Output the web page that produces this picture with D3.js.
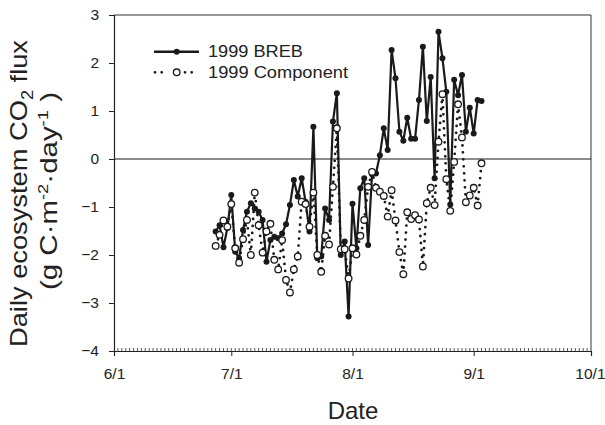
<!DOCTYPE html>
<meta charset="utf-8">
<style>
body { margin: 0; background: #fff; }
svg { font-family: Arial, "Liberation Sans", sans-serif; }
</style>
<head>
<script src="https://d3js.org/d3.v7.min.js"></script>
</head>
<body>
<div id="chart"></div>
<script>
// dates (1999), one value per day
var dates = ["6/27","6/28","6/29","6/30","7/1","7/2","7/3","7/4","7/5","7/6","7/7","7/8","7/9","7/10",
  "7/11","7/12","7/13","7/14","7/15","7/16","7/17","7/18","7/19","7/20","7/21","7/22","7/23","7/24",
  "7/25","7/26","7/27","7/28","7/29","7/30","7/31","8/1","8/2","8/3","8/4","8/5","8/6","8/7","8/8",
  "8/9","8/10","8/11","8/12","8/13","8/14","8/15","8/16","8/17","8/18","8/19","8/20","8/21","8/22",
  "8/23","8/24","8/25","8/26","8/27","8/28","8/29","8/30","8/31","9/1","9/2","9/3"];

var breb = [-1.51,-1.38,-1.84,-1.44,-0.75,-1.93,-2.07,-1.48,-1.10,-0.92,-1.03,-1.10,-1.27,-2.14,
  -1.69,-1.62,-1.65,-1.55,-1.36,-0.96,-0.44,-0.78,-0.40,-0.89,-1.51,0.67,-2.07,-2.03,
  -1.03,-1.27,0.78,1.37,-2.00,-1.72,-3.28,-0.93,-1.86,-0.61,-0.40,-1.79,-0.32,-0.30,0.08,
  0.64,0.19,2.27,1.68,0.57,0.38,0.86,0.42,0.42,1.23,2.34,0.79,1.71,-0.40,
  2.65,2.10,1.40,-0.95,1.65,1.33,1.75,0.57,1.07,0.53,1.23,1.21];

var component = [-1.81,-1.58,-1.28,-1.41,-0.94,-1.86,-2.16,-1.67,-1.27,-2.00,-0.70,-1.38,-1.95,-1.51,
  -1.35,-2.10,-2.30,-1.69,-2.52,-2.78,-2.30,-2.03,-0.89,-0.94,-1.41,-0.70,-2.00,-2.35,
  -1.60,-1.78,-0.58,0.64,-1.88,-1.88,-2.49,-1.86,-1.99,-1.60,-1.27,-0.58,-0.27,-0.60,-0.68,
  -0.77,-1.20,-0.65,-1.28,-1.94,-2.40,-1.11,-1.25,-1.17,-1.26,-2.24,-0.92,-0.60,-0.96,
  0.36,1.35,-0.42,-1.08,-0.06,1.14,0.45,-0.90,-0.76,-0.60,-0.97,-0.09];

var monthTicks = ["6/1","7/1","8/1","9/1","10/1"];
var yTicks = [-4,-3,-2,-1,0,1,2,3];
var seriesNames = ["1999 BREB","1999 Component"];

var parse = d3.timeParse("%Y/%m/%d");
function toDate(s) { return parse("1999/" + s); }

var W = 605, H = 425;
var plotL = 114, plotR = 591, plotT = 15, plotB = 351;
var ink = "#1a1a1a";

var svg = d3.select("#chart").append("svg")
  .attr("width", W).attr("height", H);

var x = d3.scaleTime()
  .domain([toDate("6/1"), toDate("10/1")])
  .range([plotL, plotR]);
var y = d3.scaleLinear().domain([-4, 3]).range([plotB, plotT]);

// frame
svg.append("line").attr("x1", plotL).attr("x2", plotR).attr("y1", plotT).attr("y2", plotT)
  .attr("stroke", "#333").attr("stroke-width", 1);
svg.append("line").attr("x1", plotR).attr("x2", plotR).attr("y1", plotT).attr("y2", plotB)
  .attr("stroke", "#333").attr("stroke-width", 1);

// axes
var yAxis = d3.axisLeft(y).tickValues(yTicks).tickSize(5).tickPadding(10).tickFormat(d3.format("d"));
var gy = svg.append("g").attr("transform", "translate(" + plotL + ",0)").call(yAxis);

var xAxis = d3.axisBottom(x).tickValues(monthTicks.map(toDate)).tickSize(5).tickPadding(12)
  .tickFormat(d3.timeFormat("%-m/%-d"));
var gx = svg.append("g").attr("transform", "translate(0," + plotB + ")").call(xAxis);

[gx, gy].forEach(function(g) {
  g.select(".domain").attr("stroke", "#222").attr("stroke-width", 1.2);
  g.selectAll(".tick line").attr("stroke", "#222");
  g.selectAll(".tick text").attr("font-size", 15.5).attr("fill", "#222")
    .attr("font-family", "Arial, 'Liberation Sans', sans-serif");
});
// keep the last date label inside the picture
gx.selectAll(".tick text").filter(function(d, i) { return i === monthTicks.length - 1; })
  .attr("text-anchor", "end").attr("dx", 14);

// daily minor ticks on the date axis
var days = d3.timeDay.range(toDate("6/2"), toDate("10/1"));
svg.append("g").selectAll("line").data(days).enter().append("line")
  .attr("x1", function(d) { return x(d); }).attr("x2", function(d) { return x(d); })
  .attr("y1", plotB).attr("y2", plotB - 3)
  .attr("stroke", "#333").attr("stroke-width", 0.8);

// zero line
svg.append("line").attr("x1", plotL).attr("x2", plotR).attr("y1", y(0)).attr("y2", y(0))
  .attr("stroke", ink).attr("stroke-width", 1);

var line = d3.line().x(function(d) { return x(d.date); }).y(function(d) { return y(d.v); });

var brebData = dates.map(function(s, i) { return {date: toDate(s), v: breb[i]}; });
var compData = dates.map(function(s, i) { return {date: toDate(s), v: component[i]}; });

// BREB series
svg.append("path").datum(brebData).attr("d", line)
  .attr("fill", "none").attr("stroke", ink).attr("stroke-width", 2.2).attr("stroke-linejoin", "round");
svg.append("g").selectAll("circle").data(brebData).enter().append("circle")
  .attr("cx", function(d) { return x(d.date); }).attr("cy", function(d) { return y(d.v); })
  .attr("r", 3).attr("fill", ink);

// component series
svg.append("path").datum(compData).attr("d", line)
  .attr("fill", "none").attr("stroke", ink).attr("stroke-width", 2.8)
  .attr("stroke-linecap", "round").attr("stroke-dasharray", "0,7");
svg.append("g").selectAll("circle").data(compData).enter().append("circle")
  .attr("cx", function(d) { return x(d.date); }).attr("cy", function(d) { return y(d.v); })
  .attr("r", 3.3).attr("fill", "#fff").attr("stroke", ink).attr("stroke-width", 1.3);

// legend
var lg = svg.append("g");
lg.append("line").attr("x1", 154).attr("x2", 199).attr("y1", 51.7).attr("y2", 51.7)
  .attr("stroke", ink).attr("stroke-width", 2.5);
lg.append("circle").attr("cx", 176.7).attr("cy", 51.7).attr("r", 3).attr("fill", ink);
[[155, 168.4], [185, 198.4]].forEach(function(s) {
  lg.append("line").attr("x1", s[0]).attr("x2", s[1]).attr("y1", 72.3).attr("y2", 72.3)
    .attr("stroke", ink).attr("stroke-width", 2.8).attr("stroke-linecap", "round")
    .attr("stroke-dasharray", "0,6.7");
});
lg.append("circle").attr("cx", 176.7).attr("cy", 72.3).attr("r", 3.3)
  .attr("fill", "#fff").attr("stroke", ink).attr("stroke-width", 1.3);
lg.append("text").attr("x", 208).attr("y", 56.8).attr("font-size", 16).attr("fill", "#222")
  .attr("textLength", 95).attr("lengthAdjust", "spacingAndGlyphs").text(seriesNames[0]);
lg.append("text").attr("x", 208).attr("y", 77.8).attr("font-size", 16).attr("fill", "#222")
  .attr("textLength", 140).attr("lengthAdjust", "spacingAndGlyphs").text(seriesNames[1]);

// axis titles
svg.append("text").attr("x", 353).attr("y", 419).attr("text-anchor", "middle")
  .attr("font-size", 24).attr("fill", "#222").text("Date");

var t1 = svg.append("text").attr("transform", "translate(27,193.5) rotate(-90)")
  .attr("text-anchor", "middle").attr("font-size", 24).attr("fill", "#222")
  .attr("textLength", 307).attr("lengthAdjust", "spacingAndGlyphs");
t1.append("tspan").text("Daily ecosystem CO");
t1.append("tspan").attr("font-size", 16).attr("dy", 6).text("2");
t1.append("tspan").attr("dy", -6).text(" flux");

var t2 = svg.append("text").attr("transform", "translate(57,191) rotate(-90)")
  .attr("text-anchor", "middle").attr("font-size", 24).attr("fill", "#222")
  .attr("textLength", 198).attr("lengthAdjust", "spacingAndGlyphs");
t2.append("tspan").text("(g C\u00b7m");
t2.append("tspan").attr("font-size", 15).attr("dy", -9).text("-2");
t2.append("tspan").attr("dy", 9).text("\u00b7day");
t2.append("tspan").attr("font-size", 15).attr("dy", -9).text("-1");
t2.append("tspan").attr("dy", 9).text(" )");
</script>
</body>
